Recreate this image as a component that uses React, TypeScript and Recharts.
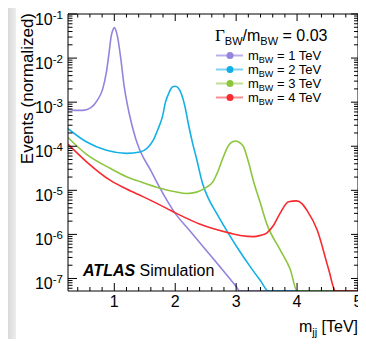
import { LineChart, Line, XAxis, YAxis, Legend } from 'recharts';

// dijet mass (TeV) and normalized events for each Breit-Wigner signal
const mjj1 = [0.24, 0.35, 0.48, 0.61, 0.72, 0.81, 0.87, 0.915, 0.95, 0.975, 1.0, 1.025, 1.05, 1.11, 1.16, 1.24, 1.35, 1.42, 1.6, 1.75, 2.0, 2.25, 2.5, 2.75, 3.0, 3.06, 5.0];
const events1 = [6.9e-4, 6.5e-4, 6.5e-4, 7.4e-4, 1.1e-3, 2.0e-3, 4.8e-3, 1.35e-2, 3.2e-2, 4.3e-2, 4.9e-2, 4.3e-2, 3.2e-2, 8.9e-3, 2.4e-3, 5.9e-4, 1.5e-4, 8.1e-5, 2.8e-5, 1.12e-5, 3.0e-6, 1.17e-6, 4.5e-7, 1.74e-7, 6.6e-8, 5.2e-8, 5.2e-8];

const mjj2 = [0.24, 0.54, 0.87, 1.2, 1.42, 1.64, 1.72, 1.79, 1.84, 1.9, 1.95, 2.0, 2.05, 2.1, 2.16, 2.21, 2.28, 2.35, 2.45, 2.55, 2.68, 2.87, 3.05, 3.23, 3.4, 3.53, 5.0];
const events2 = [2.5e-4, 1.26e-4, 8.1e-5, 6.9e-5, 7.4e-5, 1.38e-4, 2.5e-4, 4.7e-4, 1.0e-3, 1.66e-3, 2.19e-3, 2.29e-3, 2.09e-3, 1.55e-3, 7.9e-4, 3.5e-4, 1.26e-4, 5.2e-5, 1.41e-5, 6.3e-6, 3.0e-6, 1.07e-6, 4.3e-7, 1.86e-7, 8.9e-8, 5.2e-8, 5.2e-8];

const mjj3 = [0.24, 0.54, 0.93, 1.2, 1.42, 1.75, 2.0, 2.19, 2.35, 2.49, 2.62, 2.71, 2.79, 2.88, 2.94, 3.0, 3.06, 3.12, 3.2, 3.28, 3.4, 3.5, 3.72, 3.89, 4.0, 5.0];
const events3 = [1.58e-4, 6.6e-5, 3.16e-5, 2.04e-5, 1.58e-5, 1.12e-5, 9.3e-6, 8.5e-6, 9.1e-6, 1.12e-5, 1.58e-5, 2.9e-5, 5.75e-5, 1.07e-4, 1.26e-4, 1.32e-4, 1.2e-4, 9.8e-5, 4.5e-5, 1.7e-5, 5.0e-6, 1.78e-6, 4.5e-7, 1.58e-7, 5.2e-8, 5.2e-8];

const mjj4 = [0.24, 0.54, 0.93, 1.2, 1.47, 1.86, 2.02, 2.41, 2.9, 3.1, 3.28, 3.4, 3.5, 3.62, 3.72, 3.86, 3.99, 4.08, 4.16, 4.33, 4.52, 4.63, 5.0];
const events4 = [1.12e-4, 4.5e-5, 1.7e-5, 1.07e-5, 7.2e-6, 3.9e-6, 3.0e-6, 1.7e-6, 1.07e-6, 9.3e-7, 8.9e-7, 9.5e-7, 1.07e-6, 1.66e-6, 3.0e-6, 5.5e-6, 5.75e-6, 5.0e-6, 3.55e-6, 1.26e-6, 1.58e-7, 5.2e-8, 5.2e-8];

const signalMasses = ['1', '2', '3', '4'];
const lineColors = ['#9683dd', '#13b0e6', '#8cc63f', '#f62a2f'];
const legendLineColors = ['#bcaeee', '#7fd3f2', '#bfe195', '#fb8c8f'];

const xTicks = [0.4, 0.6, 0.8, 1, 1.2, 1.4, 1.6, 1.8, 2, 2.2, 2.4, 2.6, 2.8, 3, 3.2, 3.4, 3.6, 3.8, 4, 4.2, 4.4, 4.6, 4.8, 5];
const yMin = 5.2e-8;
const yMax = 0.1;
const decades = [1e-8, 1e-7, 1e-6, 1e-5, 1e-4, 1e-3, 1e-2, 1e-1];
const yTicks = decades
  .flatMap((d) => [1, 2, 3, 4, 5, 6, 7, 8, 9].map((k) => k * d))
  .filter((v) => v >= yMin && v <= yMax * 1.0001);

const SANS = '"Liberation Sans", Arial, Helvetica, sans-serif';
const SERIF = '"Liberation Serif", "Times New Roman", serif';

const toPoints = (xs: number[], ys: number[]) => xs.map((m, i) => ({ m, v: ys[i] }));
const series = [
  toPoints(mjj1, events1),
  toPoints(mjj2, events2),
  toPoints(mjj3, events3),
  toPoints(mjj4, events4),
];

const isDecade = (v: number) => {
  const lg = Math.log10(v);
  return Math.abs(lg - Math.round(lg)) < 1e-6;
};
const isInteger = (v: number) => Math.abs(v - Math.round(v)) < 1e-6;

const LeftTick = (props: any) => {
  const { x, y, payload } = props;
  const major = isDecade(payload.value);
  return (
    <g>
      <line x1={x} y1={y} x2={x + (major ? 9 : 4.5)} y2={y} stroke="#000" />
      {major && (
        <text x={x - 5} y={y + 11} textAnchor="end" fontSize={16} fontFamily={SANS} fill="#000">
          10<tspan dy={-6.5} fontSize={11.5}>{`${Math.round(Math.log10(payload.value))}`}</tspan>
        </text>
      )}
    </g>
  );
};

const RightTick = (props: any) => {
  const { x, y, payload } = props;
  const major = isDecade(payload.value);
  return <line x1={x} y1={y} x2={x - (major ? 7 : 4)} y2={y} stroke="#000" />;
};

const BottomTick = (props: any) => {
  const { x, y, payload } = props;
  const major = isInteger(payload.value);
  return (
    <g>
      <line x1={x} y1={y} x2={x} y2={y - (major ? 8 : 4)} stroke="#000" />
      {major && (
        <text x={x} y={y + 16} textAnchor="middle" fontSize={16} fontFamily={SANS} fill="#000">
          {payload.value}
        </text>
      )}
    </g>
  );
};

const TopTick = (props: any) => {
  const { x, y, payload } = props;
  const major = isInteger(payload.value);
  return <line x1={x} y1={y} x2={x} y2={y + (major ? 7 : 3.5)} stroke="#000" />;
};

const renderLegend = (props: any) => {
  const items = props.payload || [];
  return (
    <svg width={366} height={110} style={{ display: 'block' }}>
      <text x={215} y={41} fontSize={16} fontFamily={SANS} fill="#000">
        <tspan fontFamily={SERIF} fontSize={17}>Γ</tspan>
        <tspan dy={4} fontSize={11}>BW</tspan>
        <tspan dy={-4}>/m</tspan>
        <tspan dy={4} fontSize={11}>BW</tspan>
        <tspan dy={-4}> = 0.03</tspan>
      </text>
      {items.map((entry: any, i: number) => {
        const cy = 55.5 + i * 14;
        return (
          <g key={entry.value}>
            <line x1={216} y1={cy} x2={243} y2={cy} stroke={legendLineColors[i]} strokeWidth={2} />
            <circle cx={230} cy={cy} r={3.5} fill={lineColors[i]} />
            <text x={248} y={cy + 4.5} fontSize={13} fontFamily={SANS} fill="#000">
              m<tspan dy={3} fontSize={9}>BW</tspan>
              <tspan dy={-3}>{` = ${entry.value} TeV`}</tspan>
            </text>
          </g>
        );
      })}
    </svg>
  );
};

export default function App() {
  return (
    <div style={{ position: 'relative', width: 366, height: 347, margin: -8, background: '#fff', overflow: 'hidden' }}>
      {/* page frame around the figure */}
      <div style={{ position: 'absolute', left: 0, top: 0, width: 16, height: 347, background: 'linear-gradient(to right, #c6c6c6, #ededed)' }} />
      <div style={{ position: 'absolute', left: 16, top: 0, width: 350, height: 4, background: '#ececec' }} />
      <div style={{ position: 'absolute', left: 0, top: 342, width: 366, height: 5, background: 'linear-gradient(to bottom, #9a9a9a, #c8c8c8)' }} />

      <div style={{ position: 'absolute', left: 0, top: 0 }}>
        <LineChart width={366} height={347} margin={{ top: 6, right: 0, bottom: 6, left: 8 }}>
          <XAxis
            xAxisId="b"
            dataKey="m"
            type="number"
            domain={[0.24, 5]}
            allowDataOverflow
            ticks={xTicks}
            interval={0}
            height={50}
            tickSize={0}
            tickMargin={0}
            tickLine={false}
            tick={<BottomTick />}
            axisLine={{ stroke: '#000' }}
          />
          <XAxis
            xAxisId="t"
            orientation="top"
            dataKey="m"
            type="number"
            domain={[0.24, 5]}
            allowDataOverflow
            ticks={xTicks}
            interval={0}
            height={8}
            tickSize={0}
            tickMargin={0}
            tickLine={false}
            tick={<TopTick />}
            axisLine={{ stroke: '#000' }}
          />
          <YAxis
            yAxisId="l"
            type="number"
            scale="log"
            domain={[yMin, yMax]}
            allowDataOverflow
            ticks={yTicks}
            interval={0}
            width={60}
            tickSize={0}
            tickMargin={0}
            tickLine={false}
            tick={<LeftTick />}
            axisLine={{ stroke: '#000' }}
          />
          <YAxis
            yAxisId="r"
            orientation="right"
            type="number"
            scale="log"
            domain={[yMin, yMax]}
            allowDataOverflow
            ticks={yTicks}
            interval={0}
            width={8}
            tickSize={0}
            tickMargin={0}
            tickLine={false}
            tick={<RightTick />}
            axisLine={{ stroke: '#000' }}
          />
          <Legend
            layout="horizontal"
            verticalAlign="middle"
            align="center"
            wrapperStyle={{ left: 0, top: 0, width: 366, height: 110 }}
            content={renderLegend}
          />
          {series.map((pts, i) => (
            <Line
              key={signalMasses[i]}
              xAxisId="b"
              yAxisId="l"
              data={pts}
              dataKey="v"
              name={signalMasses[i]}
              type="monotone"
              stroke={lineColors[i]}
              strokeWidth={1.6}
              dot={false}
              activeDot={false}
              isAnimationActive={false}
            />
          ))}
        </LineChart>
      </div>

      <svg width={366} height={347} style={{ position: 'absolute', left: 0, top: 0, pointerEvents: 'none' }}>
        <text transform="translate(33,13) rotate(-90)" textAnchor="end" fontSize={17} fontFamily={SANS} fill="#000">
          Events (normalized)
        </text>
        <text x={358} y={332} textAnchor="end" fontSize={16} fontFamily={SANS} fill="#000">
          m<tspan dy={4} fontSize={11}>jj</tspan>
          <tspan dy={-4}> [TeV]</tspan>
        </text>
        <text x={83} y={276} fontSize={16} fontFamily={SANS} fill="#000">
          <tspan fontWeight="bold" fontStyle="italic">ATLAS</tspan>
          <tspan> Simulation</tspan>
        </text>
      </svg>
    </div>
  );
}
